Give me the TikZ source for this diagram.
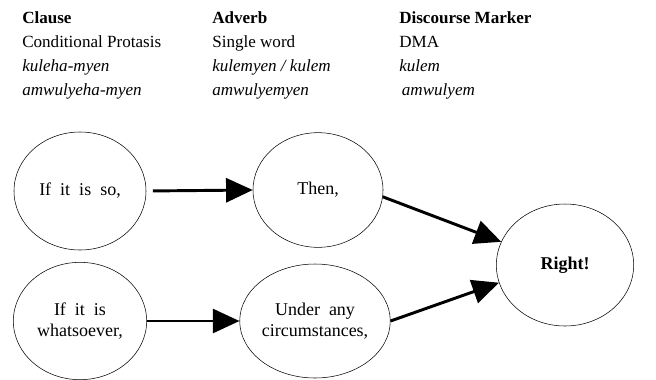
\documentclass[tikz,border=0pt]{standalone}
\usepackage{fontspec}
\setmainfont{Liberation Serif}
\usepackage{tikz}
\usetikzlibrary{shapes.geometric, arrows.meta}
\newcommand{\widewords}{\spaceskip=0.5em\relax}

\begin{document}
\begin{tikzpicture}[>={Triangle[length=20pt,width=18pt]}, shorten >= 0pt,
                    node distance=178.5pt, thin]
\tikzstyle{bubble}=[ellipse, draw=black, thin, inner sep=0pt, align=center,
                    font={\fontsize{13.5}{15.5}\selectfont\widewords}]
\tikzstyle{heading}=[anchor=north west, inner sep=0pt, align=left,
                    font=\fontsize{12.8}{18}\selectfont]
\tikzstyle{link}=[->, line width=2.2pt]
  \useasboundingbox (0,0) rectangle (492pt,-284.25pt);
  % column headings
  \node[heading] (clause) at (16.5pt,-8.5pt) {\textbf{Clause}\\ Conditional Protasis\\ \textit{kuleha-myen}\\ \textit{amwulyeha-myen}};
  \node[heading] (adverb) at (159pt,-8.5pt) {\textbf{Adverb}\\ Single word\\ \textit{kulemyen / kulem}\\ \textit{amwulyemyen}};
  \node[heading] (marker) at (299.25pt,-8.5pt) {\textbf{Discourse Marker}\\ DMA\\ \textit{kulem}\\ \hspace{2pt}\textit{amwulyem}};
  % bubbles
  \node[bubble, minimum width=99pt, minimum height=88.5pt] (IfSo) at (60pt,-143.25pt) {If it is so,};
  \node[bubble, minimum width=97.5pt, minimum height=86pt] (Then) [right of=IfSo, yshift=0.75pt] {Then,};
  \node[bubble, minimum width=100pt, minimum height=88pt] (What) [below of=IfSo, node distance=97.5pt] {If it is\\ whatsoever,};
  \node[bubble, minimum width=103.5pt, minimum height=85.5pt] (Under) [right of=What, node distance=176.25pt] {Under any\\ circumstances,};
  \node[bubble, minimum width=103pt, minimum height=91.5pt] (Right) [right of=Then, node distance=185.25pt, yshift=-56.25pt] {\textbf{Right!}};
  \draw[link, shorten <=5pt] (IfSo.east) -- (Then.west);
  \draw[link] (What.east) -- (Under.west);
  \draw[link] (Then.-6) -- (Right.160);
  \draw[link] (Under.0) -- (Right.195);
\end{tikzpicture}
\end{document}
